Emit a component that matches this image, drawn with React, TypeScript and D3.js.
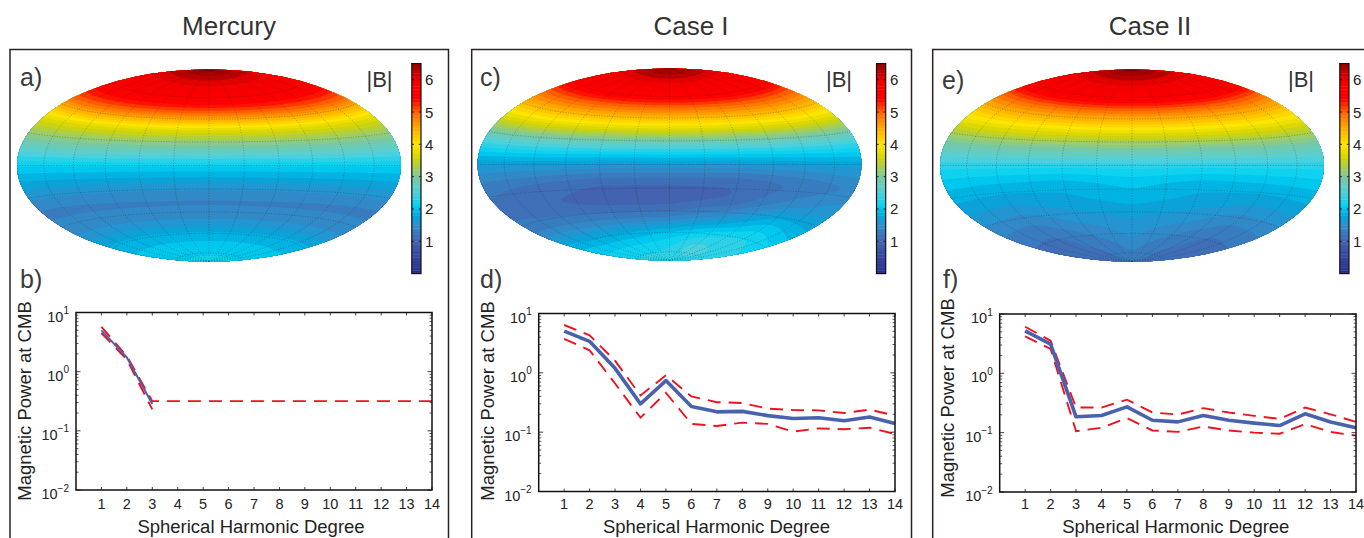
import React, { useMemo } from "react";
import * as d3 from "d3";

const degrees = d3.range(1, 15);
const yDecades = [1, 0, -1, -2];
const titles = ["Mercury", "Case I", "Case II"];
const colorTicks = [1, 2, 3, 4, 5, 6];

// Magnetic power spectra
const mercuryDegrees = [1, 2, 3];
const mercuryMean = [5.0, 1.74, 0.283];
const mercuryLower = [4.5, 1.6, 0.23];
const mercuryUpper = [5.7, 1.83, 0.318, 0.318, 0.318, 0.318, 0.318, 0.318, 0.318, 0.318, 0.318, 0.318, 0.318, 0.318];
const case1Mean = [5.05, 3.4, 1.19, 0.3, 0.74, 0.27, 0.22, 0.224, 0.19, 0.17, 0.175, 0.156, 0.18, 0.14];
const case1Upper = [6.4, 4.3, 1.6, 0.415, 0.91, 0.4, 0.32, 0.31, 0.25, 0.236, 0.233, 0.21, 0.24, 0.19];
const case1Lower = [3.75, 2.4, 0.66, 0.176, 0.46, 0.138, 0.127, 0.145, 0.138, 0.102, 0.116, 0.112, 0.119, 0.093];
const case2Mean = [5.2, 3.1, 0.185, 0.195, 0.272, 0.162, 0.152, 0.195, 0.162, 0.145, 0.132, 0.208, 0.151, 0.121];
const case2Upper = [6.1, 3.55, 0.265, 0.265, 0.36, 0.219, 0.202, 0.259, 0.219, 0.192, 0.171, 0.265, 0.204, 0.152];
const case2Lower = [4.2, 2.57, 0.106, 0.121, 0.176, 0.109, 0.103, 0.127, 0.109, 0.1, 0.096, 0.139, 0.103, 0.089];

// |B| on a lat/lon table: rows 90N..90S each 15 deg, columns lon -180..180 each 60 deg (single value = zonal)
const mercuryField = [[6.6], [6.05], [5.75], [5.0], [3.7], [2.9], [2.1], [1.65], [1.3], [1.45], [1.85], [2.05], [2.15]];
const case1Field = [
  [6.6], [6.0], [5.6], [4.7], [3.7], [2.5],
  [1.65, 1.65, 1.6, 1.6, 1.6, 1.65, 1.7],
  [1.25, 1.15, 1.05, 1.05, 1.05, 1.2, 1.35],
  [1.15, 1.05, 0.95, 0.95, 1.05, 1.4, 1.6],
  [1.3, 1.3, 1.3, 1.3, 1.55, 1.95, 1.8],
  [1.9, 1.8, 1.85, 2.0, 2.2, 2.3, 2.1],
  [2.2, 2.2, 2.2, 2.25, 2.55, 2.4, 2.3],
  [2.35],
];
const case2Field = [
  [6.6], [6.05], [5.75], [4.8], [3.9], [3.0], [2.3],
  [1.95, 1.9, 1.85, 2.0, 1.85, 1.9, 1.95],
  [1.7, 1.65, 1.75, 1.85, 1.75, 1.65, 1.7],
  [1.4, 1.35, 1.55, 1.65, 1.55, 1.35, 1.4],
  [1.2, 1.15, 1.35, 1.55, 1.35, 1.15, 1.2],
  [1.15, 1.15, 1.2, 1.4, 1.2, 1.15, 1.15],
  [1.2],
];

// Colormap stops
const cmapValues = [0, 0.5, 1, 1.5, 1.8, 2.1, 2.5, 3, 3.6, 4, 4.6, 5, 5.4, 6, 6.2, 6.6];
const cmapColors = ["#2b2f8f", "#34459e", "#4464b0", "#2f8fcc", "#00a8dc", "#00d2f4", "#50d0dc", "#7cc8a0", "#d4d400", "#ffe600", "#ffa000", "#ff6400", "#ff0000", "#f40000", "#c40000", "#8b0000"];
const color = d3.scaleLinear<string>().domain(cmapValues).range(cmapColors).interpolate(d3.interpolateRgb).clamp(true);

const hammerRaw: any = (l: number, p: number) => {
  const z = Math.sqrt(1 + Math.cos(p) * Math.cos(l / 2));
  return [(2 * Math.SQRT2 * Math.cos(p) * Math.sin(l / 2)) / z, (Math.SQRT2 * Math.sin(p)) / z];
};

function fieldAt(field: number[][], latDeg: number, lonDeg: number) {
  const rowF = Math.min(field.length - 1.0001, Math.max(0, (90 - latDeg) / 15));
  const r0 = Math.floor(rowF);
  const t = rowF - r0;
  const rowVal = (row: number[]) => {
    if (row.length === 1) return row[0];
    const cF = Math.min(row.length - 1.0001, Math.max(0, (lonDeg + 180) / 60));
    const c0 = Math.floor(cF);
    return row[c0] + (row[c0 + 1] - row[c0]) * (cF - c0);
  };
  return rowVal(field[r0]) * (1 - t) + rowVal(field[r0 + 1]) * t;
}

function MapPanel({ id, field, cx, cy, a }: { id: string; field: number[][]; cx: number; cy: number; a: number }) {
  const step = 2;
  const { bands, gratPath, gx, gy } = useMemo(() => {
    const b = a / 2;
    const w = Math.ceil((2 * a + 8) / step);
    const h = Math.ceil((2 * b + 8) / step);
    const gx = cx - (w * step) / 2;
    const gy = cy - (h * step) / 2;
    const values = new Float64Array(w * h);
    for (let j = 0; j < h; j++) {
      for (let i = 0; i < w; i++) {
        let u = (gx + (i + 0.5) * step - cx) / a;
        let v = -(gy + (j + 0.5) * step - cy) / b;
        const r = Math.hypot(u, v);
        if (r > 0.995) {
          u *= 0.995 / r;
          v *= 0.995 / r;
        }
        const X = u * 2 * Math.SQRT2;
        const Y = v * Math.SQRT2;
        const z = Math.sqrt(1 - (X / 4) ** 2 - (Y / 2) ** 2);
        const lon = 2 * Math.atan2(z * X, 2 * (2 * z * z - 1));
        const lat = Math.asin(z * Y);
        values[j * w + i] = fieldAt(field, (lat * 180) / Math.PI, (lon * 180) / Math.PI);
      }
    }
    if ((d3 as any).blur2) (d3 as any).blur2({ data: values, width: w, height: h }, 1.5);
    const thresholds = d3.range(0.3, 6.7, 0.15);
    const contours = d3.contours().size([w, h]).thresholds(thresholds)(values as any);
    const path = d3.geoPath();
    const bands = contours
      .filter((c) => c.coordinates.length > 0)
      .map((c) => ({ value: c.value, d: path(c) as string }));
    const proj = d3.geoProjection(hammerRaw).scale(a / (2 * Math.SQRT2)).translate([cx, cy]).precision(0.3);
    const grat = d3.geoGraticule().extent([[-180, -90], [180, 90.001]]).step([30, 20]);
    const gratPath = d3.geoPath(proj)(grat()) as string;
    return { bands, gratPath, gx, gy };
  }, [field, cx, cy, a]);
  return (
    <g>
      <defs>
        <clipPath id={id}>
          <ellipse cx={cx} cy={cy} rx={a} ry={a / 2} />
        </clipPath>
      </defs>
      <g clipPath={`url(#${id})`}>
        <rect x={cx - a} y={cy - a / 2} width={2 * a} height={a} fill={color(1)} />
        <g transform={`translate(${gx},${gy}) scale(${step})`}>
          {bands.map((c) => (
            <path key={c.value} d={c.d} fill={color(c.value + 0.075)} />
          ))}
        </g>
        <path d={gratPath} fill="none" stroke="#222" strokeOpacity={0.5} strokeWidth={0.6} strokeDasharray="1 1.6" />
      </g>
    </g>
  );
}

function ColorBar({ x, labelX, bx }: { x: number; labelX: number; bx: number }) {
  const y = d3.scaleLinear().domain([0, 6.5]).range([273.6, 63.6]);
  const w = 9.2;
  const levels = d3.range(0, 6.5, 0.1);
  return (
    <g>
      <text x={bx} y={86.5} fontSize={22} fill="#333" textAnchor="middle">|B|</text>
      {levels.map((v) => (
        <rect key={v} x={x} y={y(v + 0.1)} width={w} height={y(v) - y(v + 0.1) + 0.4} fill={color(v + 0.05)} />
      ))}
      <rect x={x} y={y(6.5)} width={w} height={y(0) - y(6.5)} fill="none" stroke="#111" strokeWidth={1.2} />
      {colorTicks.map((t) => (
        <g key={t}>
          <path d={`M${x},${y(t)}h2.2M${x + w},${y(t)}h-2.2`} stroke="#111" strokeWidth={0.8} />
          <text x={labelX} y={y(t) + 5.5} fontSize={15} fill="#222">{t}</text>
        </g>
      ))}
    </g>
  );
}

function Spectrum({ left, right, top, bottom, xs, mean, upper, lower, meanWidth, xLabelX, yLabelX, yLabelY }: any) {
  const x = d3.scaleLinear().domain([0, 14]).range([left, right]);
  const y = d3.scaleLog().domain([0.01, 10]).range([bottom, top]);
  const line = d3.line<number>().x((_, i) => x(i + 1)).y((d) => y(d));
  const lineM = d3.line<number>().x((_, i) => x(xs[i])).y((d) => y(d));
  const minor = y.ticks().filter((t) => !yDecades.includes(Math.round(Math.log10(t) * 1000) / 1000));
  return (
    <g>
      <path d={line(upper) as string} fill="none" stroke="#f0101e" strokeWidth={1.9} strokeDasharray="13 8" />
      <path d={line(lower) as string} fill="none" stroke="#f0101e" strokeWidth={1.9} strokeDasharray="13 8" />
      <path d={lineM(mean) as string} fill="none" stroke="#4a62ae" strokeWidth={meanWidth} strokeLinejoin="round" />
      <rect x={left} y={top} width={right - left} height={bottom - top} fill="none" stroke="#111" strokeWidth={1.5} />
      {minor.map((t) => (
        <path key={t} d={`M${left},${y(t)}h2.5M${right},${y(t)}h-2.5`} stroke="#111" strokeWidth={0.7} />
      ))}
      {yDecades.map((e) => (
        <g key={e}>
          <path d={`M${left},${y(10 ** e)}h4.5M${right},${y(10 ** e)}h-4.5`} stroke="#111" strokeWidth={0.8} />
          <text x={left - 7} y={y(10 ** e) + 9} fontSize={14.5} fill="#222" textAnchor="end">
            10
            <tspan dy={-7.5} fontSize={10}>{e < 0 ? `\u2212${-e}` : e}</tspan>
          </text>
        </g>
      ))}
      {degrees.map((d) => (
        <g key={d}>
          <path d={`M${x(d)},${bottom}v-3M${x(d)},${top}v3`} stroke="#111" strokeWidth={0.8} />
          <text x={x(d)} y={508.5} fontSize={14.5} fill="#222" textAnchor="middle">{d}</text>
        </g>
      ))}
      <text x={xLabelX} y={533} fontSize={18.5} fill="#222" textAnchor="middle">Spherical Harmonic Degree</text>
      <text transform={`translate(${yLabelX},${yLabelY}) rotate(-90)`} fontSize={18.5} fill="#222" textAnchor="middle">Magnetic Power at CMB</text>
    </g>
  );
}

const Label = ({ x, y, children }: any) => (
  <text x={x} y={y} fontSize={25} fill="#3a3a3a">{children}</text>
);

export default function App() {
  return (
    <svg
      width={1364}
      height={538}
      viewBox="0 0 1364 538"
      style={{ position: "fixed", left: 0, top: 0, background: "#fff", fontFamily: "'Liberation Sans', Arial, sans-serif" }}
    >
      <text x={229} y={35} fontSize={26} fill="#333" textAnchor="middle">{titles[0]}</text>
      <text x={691} y={35} fontSize={26} fill="#333" textAnchor="middle">{titles[1]}</text>
      <text x={1150} y={35} fontSize={26} fill="#333" textAnchor="middle">{titles[2]}</text>

      <path d="M10,540V49.5H448.5V540" fill="none" stroke="#2a2220" strokeWidth={1.5} />
      <path d="M471.7,540V49.5H911.5V540" fill="none" stroke="#2a2220" strokeWidth={1.5} />
      <path d="M932.7,540V49.5H1368" fill="none" stroke="#2a2220" strokeWidth={1.5} />

      <MapPanel id="m1" field={mercuryField} cx={209} cy={165.5} a={192} />
      <MapPanel id="m2" field={case1Field} cx={669.5} cy={164.5} a={192} />
      <MapPanel id="m3" field={case2Field} cx={1132} cy={165.5} a={192} />

      <ColorBar x={411.8} labelX={425} bx={379.5} />
      <ColorBar x={876.5} labelX={890} bx={839} />
      <ColorBar x={1339.8} labelX={1353} bx={1301} />

      <Label x={20} y={86}>a)</Label>
      <Label x={20} y={288}>b)</Label>
      <Label x={480} y={86}>c)</Label>
      <Label x={480} y={288}>d)</Label>
      <Label x={942} y={89}>e)</Label>
      <Label x={943} y={288}>f)</Label>

      <Spectrum left={76} right={432} top={312.5} bottom={490} xs={mercuryDegrees} mean={mercuryMean} upper={mercuryUpper} lower={mercuryLower} meanWidth={2} xLabelX={251} yLabelX={30.5} yLabelY={401} />
      <Spectrum left={538.7} right={895} top={313.5} bottom={491.5} xs={degrees} mean={case1Mean} upper={case1Upper} lower={case1Lower} meanWidth={3.6} xLabelX={716.5} yLabelX={494} yLabelY={401} />
      <Spectrum left={999.7} right={1356} top={314} bottom={492} xs={degrees} mean={case2Mean} upper={case2Upper} lower={case2Lower} meanWidth={3.6} xLabelX={1175.8} yLabelX={954} yLabelY={398} />
    </svg>
  );
}
